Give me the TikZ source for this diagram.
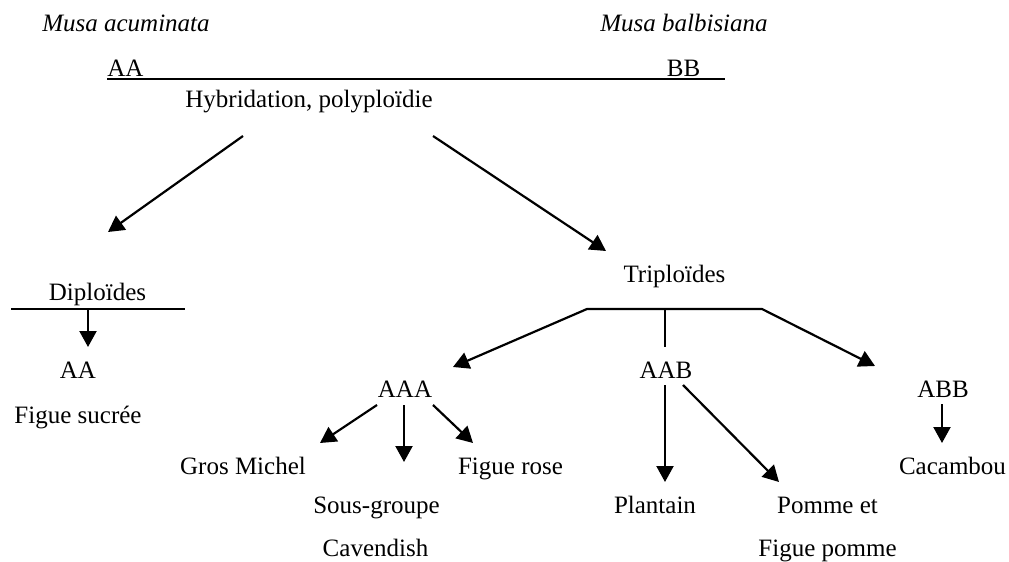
\documentclass[tikz,border=0pt]{standalone}
\usepackage{fontspec}
\setmainfont{Liberation Serif}
\usetikzlibrary{arrows.meta}
\tikzset{
  Arrow1/.style = {
    draw,
    line width = 1.1pt,
    -{Triangle[length = 8pt, width = 8.5pt]},
  },
  Line1/.style = {
    draw,
    line width = 1pt,
  },
  Text1/.style = {
    anchor = base,
    inner sep = 0pt,
    font = \fontsize{12.5}{15}\selectfont,
  }
}

\begin{document}
\begin{tikzpicture}[x=0.5pt, y=-0.5pt]
      \useasboundingbox (0,0) rectangle (1009,562);
      \draw
        (126,32)node[Text1](acum){\itshape Musa acuminata}
        (684,32)node[Text1](balb){\itshape Musa balbisiana}
        (125.5,76)node[Text1](aa){AA}
        (683.5,76)node[Text1](bb){BB}
        (309,107)node[Text1](hyb){Hybridation, polyploïdie}
        (97.5,300)node[Text1](dip){Diploïdes}
        (78,378)node[Text1](aadip){AA}
        (78,423)node[Text1](figsuc){Figue sucrée}
        (674.5,282)node[Text1](trip){Triploïdes}
        (405,397)node[Text1](aaa){AAA}
        (666,378)node[Text1](aab){AAB}
        (943,397)node[Text1](abb){ABB}
        (243,474)node[Text1](gros){Gros Michel}
        (376.5,513)node[Text1](sous){Sous-groupe}
        (375.5,556)node[Text1](cav){Cavendish}
        (510.5,474)node[Text1](frose){Figue rose}
        (655,513)node[Text1](plant){Plantain}
        (827.5,513)node[Text1](pomme){Pomme et}
        (827.5,556)node[Text1](fpomme){Figue pomme}
        (952.5,474)node[Text1](cac){Cacambou};
      % parents
      \draw[Line1] ([yshift=-1.5pt]aa.base west) -- ([xshift=12pt, yshift=-1.5pt]bb.base east);
      \draw[Arrow1] ([xshift=-33pt, yshift=-14.5pt]hyb.base) -- ([xshift=5.25pt, yshift=34pt]dip.base);
      \draw[Arrow1] ([xshift=62pt, yshift=-14.5pt]hyb.base) -- ([xshift=-34.25pt, yshift=15.5pt]trip.base);
      % diploides
      \draw[Line1] ([xshift=-43.25pt, yshift=-4.5pt]dip.base) -- ([xshift=43.75pt, yshift=-4.5pt]dip.base);
      \draw[Arrow1] ([xshift=-4.75pt, yshift=-4.5pt]dip.base) -- ([xshift=5pt, yshift=15.5pt]aadip.base);
      % triploides
      \draw[Arrow1, {Triangle[length = 8pt, width = 8.5pt]}-{Triangle[length = 8pt, width = 8.5pt]}]
        ([xshift=24pt, yshift=15pt]aaa.base) -- ([xshift=-43.75pt, yshift=-13.5pt]trip.base)
        -- ([xshift=43.75pt, yshift=-13.5pt]trip.base) -- ([xshift=-34pt, yshift=15.5pt]abb.base);
      \draw[Line1] ([xshift=-4.75pt, yshift=-13.5pt]trip.base) -- ([xshift=-0.5pt, yshift=15.5pt]aab.base);
      \draw[Arrow1] ([xshift=-14pt, yshift=-4pt]aaa.base) -- ([xshift=38.5pt, yshift=15.5pt]gros.base);
      \draw[Arrow1] ([xshift=-0.5pt, yshift=-4pt]aaa.base) -- ([xshift=13.75pt, yshift=25.5pt]sous.base);
      \draw[Arrow1] ([xshift=14pt, yshift=-4pt]aaa.base) -- ([xshift=-18.75pt, yshift=15.5pt]frose.base);
      \draw[Arrow1] ([xshift=-0.5pt, yshift=-3.5pt]aab.base) -- ([xshift=5pt, yshift=15.5pt]plant.base);
      \draw[Arrow1] ([xshift=8.5pt, yshift=-3.5pt]aab.base) -- ([xshift=-24.25pt, yshift=15.5pt]pomme.base);
      \draw[Arrow1] ([xshift=-0.5pt, yshift=-3.5pt]abb.base) -- ([xshift=-5.25pt, yshift=15.5pt]cac.base);
\end{tikzpicture}
\end{document}
